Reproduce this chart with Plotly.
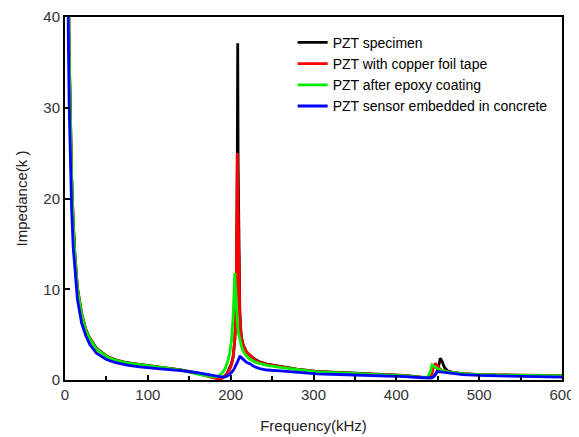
import plotly.graph_objects as go

freq = [2, 3, 4, 5, 6, 7, 8, 10, 12, 15,
        20, 25, 30, 38, 50, 60, 75, 90, 115, 140,
        163, 175, 181, 185, 190, 193, 196, 199, 201, 203,
        204, 205, 206, 207, 208, 208.5, 209, 210, 211, 212,
        213, 215, 217, 219, 223, 229, 235, 244, 260, 280,
        304, 340, 384, 410, 432, 438, 441, 443, 445, 447,
        449, 451, 453, 455, 458, 462, 470, 480, 500, 550, 600]

z_specimen = [97, 63, 46, 36.5, 30.5, 26, 22.4, 17.4, 13.8, 10.2,
              7.35, 5.6, 4.6, 3.5, 2.65, 2.25, 1.9, 1.72, 1.45, 1.12,
              0.72, 0.45, 0.3, 0.15, 0.25, 0.45, 0.8, 1.3, 1.8, 2.6,
              3.3, 4.4, 6.5, 11, 24, 37.1, 24, 12, 7.8, 5.8,
              4.7, 3.9, 3.4, 3.1, 2.75, 2.3, 2.0, 1.75, 1.5, 1.2,
              0.95, 0.78, 0.64, 0.5, 0.3, 0.25, 0.25, 0.3, 0.4, 0.6,
              0.9, 1.5, 2.4, 2.1, 1.4, 1.0, 0.8, 0.7, 0.6, 0.52, 0.48]

z_copper = [96, 62.5, 45.5, 36.2, 30.2, 25.7, 22.2, 17.2, 13.6, 10.1,
            7.3, 5.55, 4.55, 3.45, 2.62, 2.22, 1.87, 1.7, 1.42, 1.08,
            0.65, 0.35, 0.2, 0.1, 0.2, 0.4, 0.7, 1.2, 1.7, 2.5,
            3.3, 4.5, 6.8, 11.5, 25, 22, 15, 9.5, 7.0, 5.5,
            4.6, 3.8, 3.35, 3.1, 2.76, 2.2, 1.95, 1.72, 1.47, 1.18,
            0.92, 0.76, 0.63, 0.48, 0.28, 0.25, 0.35, 0.7, 1.4, 1.85,
            1.6, 1.35, 1.2, 1.1, 1.0, 0.92, 0.8, 0.7, 0.6, 0.52, 0.48]

z_epoxy = [95, 62, 45, 36, 30, 25.5, 22, 17, 13.5, 10,
           7.2, 5.5, 4.5, 3.4, 2.6, 2.2, 1.85, 1.68, 1.4, 1.1,
           0.6, 0.4, 0.33, 0.4, 0.8, 1.2, 1.9, 3.0, 4.4, 7,
           9.5, 11.8, 9.5, 7.5, 6.2, 5.8, 5.4, 4.9, 4.4, 4.0,
           3.7, 3.2, 2.9, 2.65, 2.3, 2.0, 1.8, 1.6, 1.4, 1.15,
           0.9, 0.75, 0.6, 0.45, 0.28, 0.35, 0.9, 1.66, 1.55, 1.4,
           1.3, 1.2, 1.12, 1.05, 0.98, 0.9, 0.8, 0.7, 0.6, 0.5, 0.45]

z_concrete = [75, 50, 38, 30.5, 25.5, 21.5, 18.8, 14.5, 11.8, 8.9,
              6.3, 4.9, 3.9, 2.95, 2.25, 1.95, 1.65, 1.45, 1.22, 1.03,
              0.77, 0.55, 0.45, 0.38, 0.33, 0.35, 0.45, 0.65, 0.8, 1.05,
              1.2, 1.35, 1.55, 1.75, 1.95, 2.05, 2.2, 2.4, 2.57, 2.55,
              2.45, 2.25, 2.1, 1.95, 1.8, 1.45, 1.25, 1.1, 1.0, 0.85,
              0.68, 0.58, 0.48, 0.38, 0.25, 0.22, 0.22, 0.25, 0.35, 0.55,
              0.85, 0.92, 0.9, 0.86, 0.82, 0.78, 0.7, 0.6, 0.5, 0.4, 0.32]

series_names = ["PZT specimen", "PZT with copper foil tape",
                "PZT after epoxy coating", "PZT sensor embedded in concrete"]
series_values = [z_specimen, z_copper, z_epoxy, z_concrete]
series_colors = ["#000000", "#ff0000", "#00ee00", "#0000ff"]

fig = go.Figure()
for name, vals, col in zip(series_names, series_values, series_colors):
    fig.add_trace(go.Scatter(x=freq, y=vals, mode="lines", name=name,
                             line=dict(color=col, width=2.8)))

font_family = "Liberation Sans, Arial, sans-serif"
# page body has an 8px margin: figure is sized/offset to compensate
fig.update_layout(
    width=571, height=429,
    margin=dict(l=57, r=17, t=9, b=57, autoexpand=False),
    paper_bgcolor="white", plot_bgcolor="white",
    font=dict(family=font_family, size=15, color="#333333"),
    showlegend=True,
    legend=dict(x=0.458, y=0.973, xanchor="left", yanchor="top",
                bgcolor="rgba(0,0,0,0)", borderwidth=0,
                font=dict(family=font_family, size=14, color="#000000"),
                tracegroupgap=0, itemwidth=30),
)
fig.update_xaxes(
    range=[0, 600], dtick=100, tick0=0, automargin=False,
    showgrid=False, zeroline=False,
    showline=True, linecolor="black", linewidth=2, mirror=True,
    ticks="inside", ticklen=5, tickwidth=2, tickcolor="black",
    minor=dict(dtick=50, ticks="inside", ticklen=4, tickwidth=2, tickcolor="black"),
    title=dict(text="Frequency(kHz)", font=dict(size=15, color="#222222"), standoff=18),
    tickfont=dict(size=15, color="#333333"),
)
fig.update_yaxes(
    range=[0, 40], dtick=10, tick0=0, automargin=False,
    showgrid=False, zeroline=False,
    showline=True, linecolor="black", linewidth=2, mirror=True,
    ticks="inside", ticklen=5, tickwidth=2, tickcolor="black",
    title=dict(text="Impedance(k )", font=dict(size=15, color="#222222"), standoff=12),
    tickfont=dict(size=15, color="#333333"),
)

fig.write_html("out.html")
